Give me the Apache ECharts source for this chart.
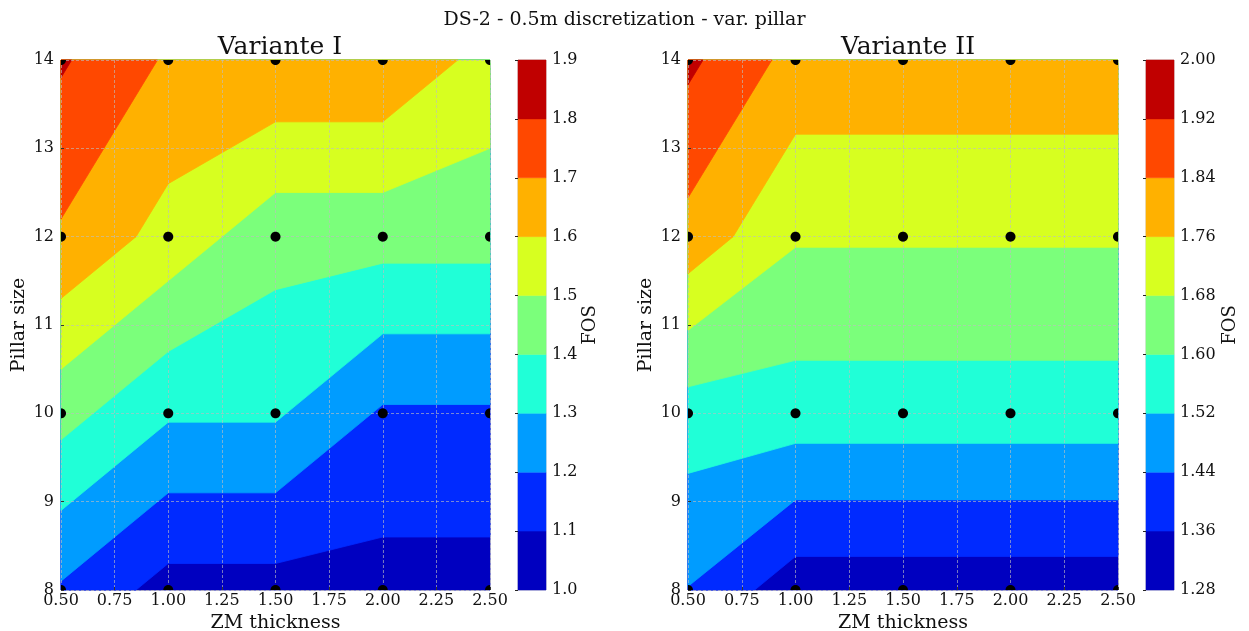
<!DOCTYPE html>
<html>
<head>
<meta charset="utf-8">
<script src="https://cdn.jsdelivr.net/npm/echarts@6/dist/echarts.min.js"></script>
<style>html,body{margin:0;padding:0;background:#fff}#c{width:1249px;height:631px}</style>
</head>
<body>
<div id="c"></div>
<script>
// ---- data ----
const zmThickness = [0.5, 1.0, 1.5, 2.0, 2.5];
const pillarSize = [8, 10, 12, 14];
// FOS rows follow pillarSize, columns follow zmThickness
const fosVariantI = [
  [1.1875, 1.0625, 1.0625, 1.0625, 1.0625],
  [1.4375, 1.3125, 1.3125, 1.1875, 1.1875],
  [1.6875, 1.5625, 1.4375, 1.4375, 1.4375],
  [1.8125, 1.6875, 1.6875, 1.6875, 1.5625]
];
const fosVariantII = [
  [1.4375, 1.3125, 1.3125, 1.3125, 1.3125],
  [1.5625, 1.5625, 1.5625, 1.5625, 1.5625],
  [1.8125, 1.6875, 1.6875, 1.6875, 1.6875],
  [1.9375, 1.8125, 1.8125, 1.8125, 1.8125]
];
const levelsI = [1.0, 1.1, 1.2, 1.3, 1.4, 1.5, 1.6, 1.7, 1.8, 1.9];
const levelsII = [1.28, 1.36, 1.44, 1.52, 1.60, 1.68, 1.76, 1.84, 1.92, 2.00];
const bandColors = ['#0000c0', '#002aff', '#009cff', '#20ffd7', '#7bff7b', '#d7ff20', '#ffb100', '#ff4800', '#c00000'];
const titles = ['DS-2 - 0.5m discretization - var. pillar', 'Variante I', 'Variante II'];

// ---- helpers ----
const FONT = 'DejaVu Serif';
function clipGE(poly, t) {
  const out = [];
  for (let i = 0; i < poly.length; i++) {
    const cur = poly[i], prev = poly[(i + poly.length - 1) % poly.length];
    const ci = cur[2] >= t, pi = prev[2] >= t;
    if (ci !== pi) {
      const f = (t - prev[2]) / (cur[2] - prev[2]);
      out.push([prev[0] + f * (cur[0] - prev[0]), prev[1] + f * (cur[1] - prev[1]), t]);
    }
    if (ci) out.push(cur);
  }
  return out;
}
function contourSeries(grid, levels, axisIdx) {
  const data = [];
  for (let k = 0; k < levels.length - 1; k++)
    for (let r = 0; r < pillarSize.length - 1; r++)
      for (let c = 0; c < zmThickness.length - 1; c++) data.push([k, r, c]);
  return {
    type: 'custom', xAxisIndex: axisIdx, yAxisIndex: axisIdx, z: 1, silent: true,
    data: data,
    renderItem: function (params, api) {
      const k = api.value(0), r = api.value(1), c = api.value(2);
      const quad = [
        [zmThickness[c], pillarSize[r], grid[r][c]],
        [zmThickness[c + 1], pillarSize[r], grid[r][c + 1]],
        [zmThickness[c + 1], pillarSize[r + 1], grid[r + 1][c + 1]],
        [zmThickness[c], pillarSize[r + 1], grid[r + 1][c]]
      ];
      const poly = clipGE(quad, levels[k]);
      if (poly.length < 3) return null;
      const pts = poly.map(p => api.coord([p[0], p[1]]));
      return { type: 'polygon', shape: { points: pts },
        style: { fill: bandColors[k], stroke: bandColors[k], lineWidth: 0.8 } };
    }
  };
}
function colorbarSeries(levels, axisIdx) {
  const data = [];
  for (let k = 0; k < levels.length - 1; k++) data.push([k]);
  return {
    type: 'custom', xAxisIndex: axisIdx, yAxisIndex: axisIdx, z: 1, silent: true,
    data: data,
    renderItem: function (params, api) {
      const k = api.value(0);
      const p0 = api.coord([0, levels[k]]), p1 = api.coord([1, levels[k + 1]]);
      return { type: 'rect', shape: { x: p0[0], y: p1[1], width: p1[0] - p0[0], height: p0[1] - p1[1] },
        style: { fill: bandColors[k], stroke: bandColors[k], lineWidth: 0.5 } };
    }
  };
}
// sample points drawn as dots clipped to the plotting area
function dotSeries(axisIdx) {
  const d = [];
  pillarSize.forEach(y => zmThickness.forEach(x => d.push([x, y])));
  return {
    type: 'custom', xAxisIndex: axisIdx, yAxisIndex: axisIdx, z: 20, silent: true,
    data: d,
    renderItem: function (params, api) {
      const c = api.coord([api.value(0), api.value(1)]);
      const cs = params.coordSys;
      const R = 5, pts = [];
      for (let i = 0; i < 40; i++) {
        const a = i / 40 * Math.PI * 2;
        let px = c[0] + R * Math.cos(a), py = c[1] + R * Math.sin(a);
        px = Math.min(Math.max(px, cs.x), cs.x + cs.width);
        py = Math.min(Math.max(py, cs.y), cs.y + cs.height);
        pts.push([px, py]);
      }
      return { type: 'polygon', shape: { points: pts }, style: { fill: '#000' } };
    }
  };
}
const txt = { fontFamily: FONT, color: '#111' };
const splitLine = { show: true, lineStyle: { color: 'rgba(190,190,190,0.9)', width: 0.7, type: [3, 2] } };
function xMain(gi) {
  return { gridIndex: gi, type: 'value', min: 0.5, max: 2.5, interval: 0.25, z: 5,
    name: 'ZM thickness', nameLocation: 'middle', nameGap: 22,
    nameTextStyle: Object.assign({ fontSize: 19 }, txt),
    axisLine: { show: false }, axisTick: { show: true, inside: true, length: 3, lineStyle: { color: '#333' } },
    axisLabel: Object.assign({ fontSize: 16, margin: 3, formatter: v => v.toFixed(2) }, txt),
    splitLine: splitLine };
}
function yMain(gi) {
  return { gridIndex: gi, type: 'value', min: 8, max: 14, interval: 1, z: 5,
    name: 'Pillar size', nameLocation: 'middle', nameGap: 32, nameRotate: 90,
    nameTextStyle: Object.assign({ fontSize: 19 }, txt),
    axisLine: { show: false }, axisTick: { show: true, inside: true, length: 3, lineStyle: { color: '#333' } },
    axisLabel: Object.assign({ fontSize: 16, margin: 7 }, txt),
    splitLine: splitLine };
}
function xBar(gi) {
  return { gridIndex: gi, type: 'value', min: 0, max: 1, show: false };
}
function yBar(gi, levels, gap, dec) {
  return { gridIndex: gi, type: 'value', position: 'right', min: levels[0], max: levels[levels.length - 1],
    interval: Math.round((levels[1] - levels[0]) * 100) / 100, z: 5,
    name: 'FOS', nameLocation: 'middle', nameGap: gap, nameRotate: 90,
    nameTextStyle: Object.assign({ fontSize: 18 }, txt),
    axisLine: { show: false }, axisTick: { show: true, inside: true, length: 3, lineStyle: { color: '#222' } },
    axisLabel: Object.assign({ fontSize: 16, margin: 6, formatter: v => v.toFixed(dec) }, txt),
    splitLine: { show: false } };
}
const gridBase = { show: true, borderColor: '#c8c8c8', borderWidth: 1, backgroundColor: 'transparent',
  containLabel: false, outerBoundsMode: 'none' };

const chart = echarts.init(document.getElementById('c'));
chart.setOption({
  animation: false,
  backgroundColor: '#fff',
  title: [
    { text: titles[0], left: 'center', top: 6, textStyle: Object.assign({ fontSize: 19, fontWeight: 'normal' }, txt) },
    { text: titles[1], left: 275, textAlign: 'center', top: 30, textStyle: Object.assign({ fontSize: 25, fontWeight: 'normal' }, txt) },
    { text: titles[2], left: 903, textAlign: 'center', top: 30, textStyle: Object.assign({ fontSize: 25, fontWeight: 'normal' }, txt) }
  ],
  grid: [
    Object.assign({ left: 61, top: 60, width: 429, height: 530 }, gridBase),
    Object.assign({ left: 518, top: 60, width: 28, height: 530 }, gridBase),
    Object.assign({ left: 688, top: 60, width: 430, height: 530 }, gridBase),
    Object.assign({ left: 1146, top: 60, width: 28, height: 530 }, gridBase)
  ],
  xAxis: [xMain(0), xBar(1), xMain(2), xBar(3)],
  yAxis: [yMain(0), yBar(1, levelsI, 35, 1), yMain(2), yBar(3, levelsII, 47, 2)],
  series: [
    contourSeries(fosVariantI, levelsI, 0),
    colorbarSeries(levelsI, 1),
    contourSeries(fosVariantII, levelsII, 2),
    colorbarSeries(levelsII, 3),
    dotSeries(0),
    dotSeries(2)
  ]
});
</script>
</body>
</html>
